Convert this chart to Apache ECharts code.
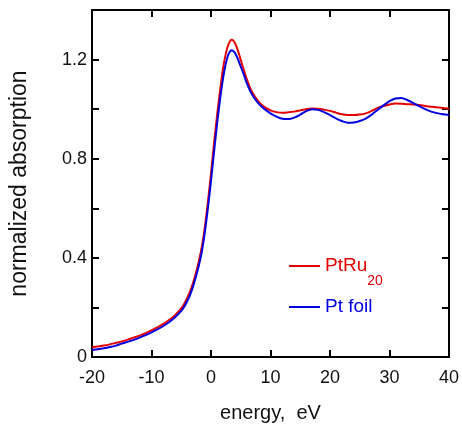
<!DOCTYPE html>
<html><head><meta charset="utf-8">
<script src="https://cdn.jsdelivr.net/npm/echarts@6/dist/echarts.min.js"></script>
<style>html,body{margin:0;padding:0;background:#fff}#c{width:462px;height:429px}</style>
</head><body><div id="c"></div>
<script>
const energy = [-20,-19,-18,-17,-16,-15,-14,-13,-12,-11,-10,-9,-8,-7,-6,-5,
  -4.5,-4,-3.5,-3,-2.5,-2,-1.5,-1,-0.5,0,0.5,1,1.5,2,2.5,3,3.5,4,4.5,5,5.5,6,6.5,7,
  8,9,10,11,12,13,14,15,16,17,18,19,20,21,22,23,24,25,26,27,28,29,30,31,32,33,34,35,36,37,38,39,40];
const ptRu20 = [.039,.042,.046,.051,.057,.063,.070,.078,.086,.096,.108,.120,.134,.150,.170,.196,
  .215,.238,.266,.300,.342,.390,.450,.530,.630,.740,.860,.970,1.07,1.16,1.225,1.265,1.28,1.268,1.238,1.198,1.16,1.122,1.09,1.065,
  1.03,1.008,0.995,0.988,0.985,0.987,0.99,0.995,1.0,1.003,1.002,0.998,0.993,0.986,0.979,0.976,0.976,0.978,0.983,0.993,1.005,1.013,1.019,1.023,1.022,1.02,1.019,1.017,1.013,1.01,1.008,1.005,1.002];
const ptFoil = [.028,.031,.035,.040,.046,.054,.061,.069,.078,.088,.099,.111,.125,.141,.161,.186,
  .203,.225,.252,.286,.327,.373,.430,.510,.605,.710,.825,.935,1.035,1.12,1.185,1.225,1.238,1.228,1.203,1.172,1.14,1.106,1.078,1.055,
  1.022,1.0,0.983,0.97,0.961,0.96,0.966,0.978,0.992,1.0,0.997,0.988,0.976,0.963,0.952,0.945,0.946,0.952,0.962,0.978,0.997,1.015,1.032,1.043,1.045,1.037,1.024,1.012,1.0,0.99,0.984,0.979,0.976];
const xTicks = [-20,-10,0,10,20,30,40];
const yLabels = ['0','0.4','0.8','1.2'];

const FONT = "'Liberation Sans', Arial, sans-serif";
const RED = '#e60000', BLUE = '#0000e0';
const zip = (xs, ys) => xs.map((x, i) => [x, ys[i]]);
const axisLine = {show: true, onZero: false, lineStyle: {color: '#000', width: 2}};
const tick = {show: true, inside: true, length: 7, lineStyle: {color: '#000', width: 2}};

const chart = echarts.init(document.getElementById('c'), null, {renderer: 'canvas'});
chart.setOption({
  animation: false,
  backgroundColor: '#fff',
  grid: {left: 91, right: 12, top: 10, bottom: 72, containLabel: false},
  xAxis: [{
    type: 'value', min: xTicks[0], max: xTicks[xTicks.length - 1], interval: 10,
    axisLine, axisTick: tick, splitLine: {show: false},
    axisLabel: {color: '#111', fontSize: 18, fontFamily: FONT, margin: 12},
    name: 'energy,  eV', nameLocation: 'middle', nameGap: 46,
    nameTextStyle: {color: '#111', fontSize: 20, fontFamily: FONT}
  }, {
    type: 'value', position: 'top', min: -20, max: 40, interval: 10,
    axisLine, axisTick: tick, axisLabel: {show: false}, splitLine: {show: false}
  }],
  yAxis: [{
    type: 'value', min: 0, max: 1.4, interval: 0.2,
    axisLine, axisTick: tick, splitLine: {show: false},
    axisLabel: {color: '#111', fontSize: 18, fontFamily: FONT, margin: 5,
      formatter: v => { const k = Math.round(v * 10); return (k % 4 === 0 && k / 10 < 1.4) ? yLabels[k / 4] : ''; }},
    name: 'normalized absorption', nameLocation: 'middle', nameGap: 61,
    nameTextStyle: {color: '#111', fontSize: 23, fontFamily: FONT}
  }, {
    type: 'value', position: 'right', min: 0, max: 1.4, interval: 0.2,
    axisLine, axisTick: tick, axisLabel: {show: false}, splitLine: {show: false}
  }],
  legend: [{
    left: 289, top: 244, padding: 0, orient: 'vertical',
    icon: 'rect', itemWidth: 31, itemHeight: 2, itemGap: 5,
    data: [{name: 'PtRu20'}],
    formatter: () => '{m|PtRu}{s|20}',
    textStyle: {color: RED, fontFamily: FONT, fontSize: 19,
      rich: {
        m: {color: RED, fontFamily: FONT, fontSize: 19, lineHeight: 46, verticalAlign: 'middle'},
        s: {color: RED, fontFamily: FONT, fontSize: 14, lineHeight: 14, padding: [30, 0, 0, 0], verticalAlign: 'middle'}
      }}
  }, {
    left: 289, top: 297, padding: 0, orient: 'vertical',
    icon: 'rect', itemWidth: 31, itemHeight: 2,
    data: [{name: 'Pt foil'}],
    textStyle: {color: BLUE, fontFamily: FONT, fontSize: 19, lineHeight: 20}
  }],
  series: [{
    name: 'PtRu20', type: 'line', data: zip(energy, ptRu20), showSymbol: false, symbol: 'none',
    smooth: 0.3, color: RED, lineStyle: {color: RED, width: 2}, z: 2
  }, {
    name: 'Pt foil', type: 'line', data: zip(energy, ptFoil), showSymbol: false, symbol: 'none',
    smooth: 0.3, color: BLUE, lineStyle: {color: BLUE, width: 2}, z: 3
  }]
});
</script></body></html>
